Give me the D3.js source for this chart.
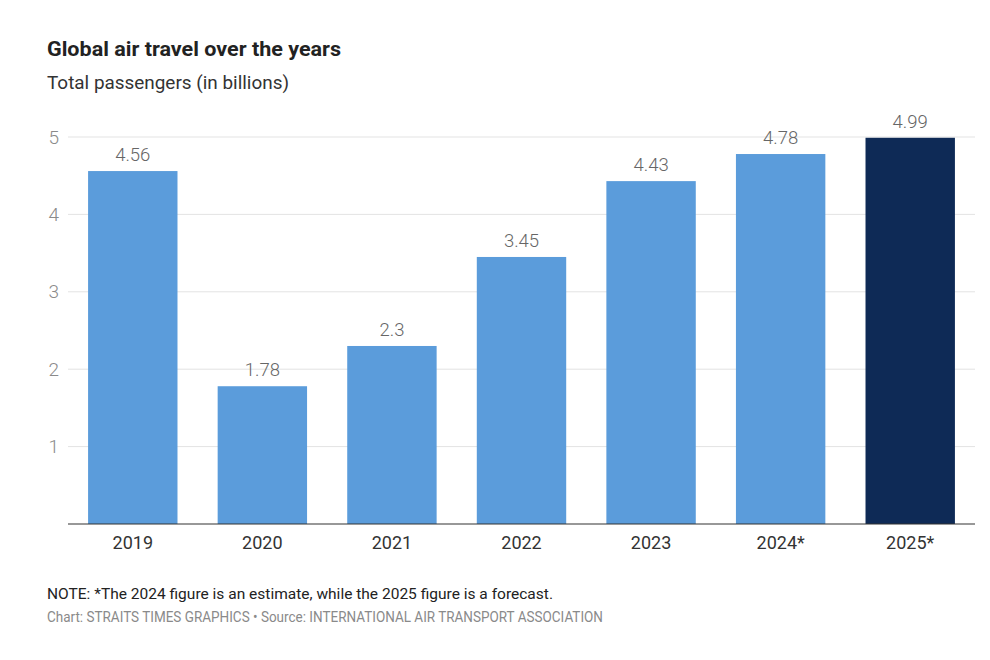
<!DOCTYPE html>
<html>
<head>
<meta charset="utf-8">
<script src="https://cdn.jsdelivr.net/npm/d3@7"></script>
<style>
  body { margin: 0; background: #fff; font-family: Roboto, "Liberation Sans", sans-serif; }
</style>
</head>
<body>
<svg id="chart"></svg>
<script>
const years = ['2019', '2020', '2021', '2022', '2023', '2024*', '2025*'];
const passengers = [4.56, 1.78, 2.3, 3.45, 4.43, 4.78, 4.99];
const valueLabels = ['4.56', '1.78', '2.3', '3.45', '4.43', '4.78', '4.99'];
const yTicks = [1, 2, 3, 4, 5];

function drawChart(width, height) {
  const svg = d3.select('#chart').attr('width', width).attr('height', height);

  //TITLES
  svg.append('text')
    .attr('x', 47).attr('y', 56)
    .attr('font-size', 20.5).attr('font-weight', 'bold').attr('fill', '#222')
    .attr('textLength', 294).attr('lengthAdjust', 'spacingAndGlyphs')
    .text('Global air travel over the years');
  svg.append('text')
    .attr('x', 47).attr('y', 89)
    .attr('font-size', 19).attr('fill', '#333')
    .attr('textLength', 242).attr('lengthAdjust', 'spacingAndGlyphs')
    .text('Total passengers (in billions)');

  //SCALES
  const x = d3.scaleBand()
    .domain(years)
    .range([68, 975])
    .paddingInner(0.31)
    .paddingOuter(0.155);

  const y = d3.scaleLinear().domain([0, 5]).range([524, 137]);

  //GRID + Y LABELS
  const grid = svg.append('g');
  grid.selectAll('line')
    .data(yTicks)
    .enter()
    .append('line')
    .attr('x1', 68).attr('x2', 975)
    .attr('y1', (d) => y(d)).attr('y2', (d) => y(d))
    .attr('stroke', '#e3e3e3').attr('stroke-width', 1);
  grid.selectAll('text')
    .data(yTicks)
    .enter()
    .append('text')
    .attr('x', 59).attr('y', (d) => y(d))
    .attr('dy', '0.35em')
    .attr('text-anchor', 'end')
    .attr('font-size', 19).attr('font-weight', 300).attr('fill', '#8a8a8a')
    .text((d) => d);

  //BARS
  svg.append('g').selectAll('rect')
    .data(passengers)
    .enter()
    .append('rect')
    .attr('x', (d, i) => x(years[i]))
    .attr('width', x.bandwidth())
    .attr('y', (d) => y(d))
    .attr('height', (d) => y(0) - y(d))
    .attr('fill', (d, i) => i === years.length - 1 ? '#0e2a56' : '#5b9cdb');

  //VALUE LABELS
  svg.append('g').selectAll('text')
    .data(passengers)
    .enter()
    .append('text')
    .attr('x', (d, i) => x(years[i]) + x.bandwidth() / 2)
    .attr('y', (d) => y(d) - 10)
    .attr('text-anchor', 'middle')
    .attr('font-size', 18.5).attr('font-weight', 300).attr('fill', '#666')
    .text((d, i) => valueLabels[i]);

  //BASELINE + X LABELS
  svg.append('line')
    .attr('x1', 68).attr('x2', 975)
    .attr('y1', y(0)).attr('y2', y(0))
    .attr('stroke', '#333').attr('stroke-width', 1.2);

  const xAxis = svg.append('g')
    .attr('transform', `translate(0,${y(0)})`)
    .call(d3.axisBottom(x).tickSize(0).tickPadding(12));
  xAxis.select('.domain').remove();
  xAxis.selectAll('text')
    .attr('font-size', 18).attr('fill', '#333')
    .attr('font-family', 'Roboto, sans-serif');

  //FOOTER
  svg.append('text')
    .attr('x', 47).attr('y', 599)
    .attr('font-size', 15.5).attr('fill', '#222')
    .attr('textLength', 506).attr('lengthAdjust', 'spacingAndGlyphs')
    .text('NOTE: *The 2024 figure is an estimate, while the 2025 figure is a forecast.');
  svg.append('text')
    .attr('x', 47).attr('y', 622)
    .attr('font-size', 14.5).attr('fill', '#8a8a8a')
    .attr('textLength', 556).attr('lengthAdjust', 'spacingAndGlyphs')
    .text('Chart: STRAITS TIMES GRAPHICS \u2022 Source: INTERNATIONAL AIR TRANSPORT ASSOCIATION');
}

drawChart(990, 660);
</script>
</body>
</html>
